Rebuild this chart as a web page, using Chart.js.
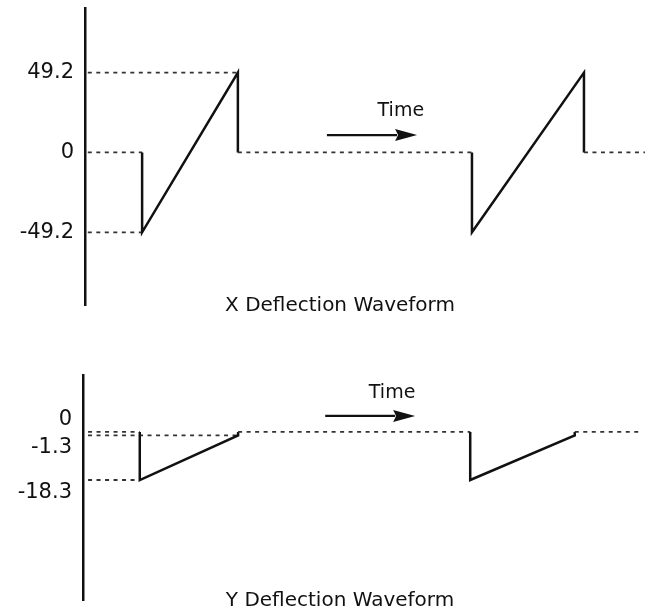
<!DOCTYPE html>
<html>
<head>
<meta charset="utf-8">
<script src="https://cdn.jsdelivr.net/npm/chart.js@4.4.1/dist/chart.umd.min.js"></script>
<style>
  html, body { margin: 0; padding: 0; background: #ffffff; }
  #wrap { position: relative; width: 651px; height: 612px; overflow: hidden; }
  canvas { position: absolute; left: 0; }
  #cx { top: 0; }
  #cy { top: 340px; }
</style>
</head>
<body>
<div id="wrap">
  <canvas id="cx" width="651" height="330"></canvas>
  <canvas id="cy" width="651" height="272"></canvas>
</div>
<script>
// ---------- data ----------
// X deflection waveform: time (arbitrary units) and deflection value
const xTime = [0.5, 10.2, 10.2, 27.3, 27.3, 69.1, 69.1, 89.1, 89.1, 100];
const xDeflection = [0, 0, -49.2, 49.2, 0, 0, -49.2, 49.2, 0, 0];
const xPeakRefTime = [0.5, 27.3];
const xTroughRefTime = [0.5, 10.2];
const xTickValues = [49.2, 0, -49.2];

// Y deflection waveform
const yTime = [0.9, 10.1, 10.1, 27.6, 27.6, 68.9, 68.9, 87.5, 87.5, 99.3];
const yDeflection = [0, 0, -18.3, -1.3, 0, 0, -18.3, -1.3, 0, 0];
const yRampEndRefTime = [0.9, 27.6];
const yRampStartRefTime = [0.9, 10.1];
const yTickValues = [0, -1.3, -18.3];

// ---------- style ----------
const FONT = "'DejaVu Sans', 'Liberation Sans', Arial, sans-serif";
const INK = '#111111';
const DASH_COLOR = '#333333';
const DASH = [4, 4.5];
const DASH_WIDTH = 1.8;
const yLabelPlacement = ['above', 'below', 'below'];

function pts(xs, ys) { return xs.map((x, i) => ({ x: x, y: ys[i] })); }
function level(xs, v) { return xs.map(x => ({ x: x, y: v })); }

const notesPlugin = {
  id: 'waveNotes',
  afterDraw(chart, args, o) {
    const ctx = chart.ctx, sx = chart.scales.x, sy = chart.scales.y;
    ctx.save();
    ctx.fillStyle = INK;
    ctx.strokeStyle = INK;
    // "Time" label
    ctx.font = o.timeFont;
    ctx.textAlign = 'center';
    ctx.textBaseline = 'middle';
    ctx.fillText(o.timeText, sx.getPixelForValue(o.timeX), sy.getPixelForValue(o.timeY));
    // arrow
    const ax0 = sx.getPixelForValue(o.arrowFrom), ax1 = sx.getPixelForValue(o.arrowTo);
    const ay = sy.getPixelForValue(o.arrowY);
    const headLen = 22, headHalf = 6;
    ctx.lineWidth = 2.2;
    ctx.beginPath();
    ctx.moveTo(ax0, ay);
    ctx.lineTo(ax1 - headLen + 2, ay);
    ctx.stroke();
    ctx.beginPath();
    ctx.moveTo(ax1, ay);
    ctx.lineTo(ax1 - headLen, ay - headHalf);
    ctx.lineTo(ax1 - headLen + 3, ay);
    ctx.lineTo(ax1 - headLen, ay + headHalf);
    ctx.closePath();
    ctx.fill();
    // caption
    ctx.font = o.titleFont;
    ctx.fillText(o.title, o.titleX, o.titleY);
    ctx.restore();
  }
};

function isBaseline(c) { return c.p0.parsed.y === 0 && c.p1.parsed.y === 0; }

function waveDataset(data) {
  return {
    data: data,
    borderColor: INK,
    borderWidth: 2.5,
    pointRadius: 0,
    borderJoinStyle: 'miter',
    borderCapStyle: 'butt',
    tension: 0,
    segment: {
      borderDash: c => isBaseline(c) ? DASH : undefined,
      borderWidth: c => isBaseline(c) ? DASH_WIDTH : 2.5,
      borderColor: c => isBaseline(c) ? DASH_COLOR : INK
    }
  };
}
function refDataset(data) {
  return {
    data: data,
    borderColor: DASH_COLOR,
    borderWidth: DASH_WIDTH,
    borderDash: DASH,
    pointRadius: 0
  };
}

function makeChart(id, cfg) {
  return new Chart(document.getElementById(id), {
    type: 'line',
    data: { datasets: cfg.datasets },
    plugins: [notesPlugin],
    options: {
      responsive: false,
      animation: false,
      events: [],
      layout: { padding: cfg.padding },
      plugins: {
        legend: { display: false },
        tooltip: { enabled: false },
        title: { display: false },
        waveNotes: cfg.notes
      },
      scales: {
        x: { type: 'linear', min: 0, max: 100, display: false },
        y: {
          type: 'linear',
          min: cfg.yMin, max: cfg.yMax,
          afterBuildTicks: s => { s.ticks = cfg.ticks.map(v => ({ value: v })); },
          afterFit: s => { s.width = cfg.axisX; s.paddingTop = 0; s.paddingBottom = 0; },
          grid: { display: false, drawTicks: false },
          border: { display: true, color: INK, width: 2.5 },
          ticks: {
            autoSkip: false,
            padding: 11,
            color: INK,
            font: { family: FONT, size: 21 },
            callback: cfg.tickLabel
          }
        }
      }
    }
  });
}

// X deflection chart
makeChart('cx', {
  datasets: [
    waveDataset(pts(xTime, xDeflection)),
    refDataset(level(xPeakRefTime, xTickValues[0])),
    refDataset(level(xTroughRefTime, xTickValues[2]))
  ],
  padding: { top: 8, bottom: 25, left: 0, right: 6 },
  yMin: -94, yMax: 89,
  ticks: xTickValues,
  axisX: 85,
  tickLabel: v => String(v),
  notes: {
    timeText: 'Time', timeFont: '19px ' + FONT, timeX: 56.4, timeY: 25.5,
    arrowFrom: 43.2, arrowTo: 59.3, arrowY: 10.7,
    title: 'X Deflection Waveform', titleFont: '20px ' + FONT, titleX: 340, titleY: 306
  }
});

// Y deflection chart
makeChart('cy', {
  datasets: [
    waveDataset(pts(yTime, yDeflection)),
    refDataset(level(yRampEndRefTime, yTickValues[1])),
    refDataset(level(yRampStartRefTime, yTickValues[2]))
  ],
  padding: { top: 35, bottom: 12, left: 0, right: 6 },
  yMin: -64, yMax: 21.7,
  ticks: yTickValues,
  axisX: 83,
  tickLabel: (v, i) => yLabelPlacement[i] === 'above' ? [String(v), ''] : ['', String(v)],
  notes: {
    timeText: 'Time', timeFont: '19px ' + FONT, timeX: 55.0, timeY: 14.9,
    arrowFrom: 43.1, arrowTo: 59.1, arrowY: 6.1,
    title: 'Y Deflection Waveform', titleFont: '20px ' + FONT, titleX: 340, titleY: 261
  }
});
</script>
</body>
</html>
